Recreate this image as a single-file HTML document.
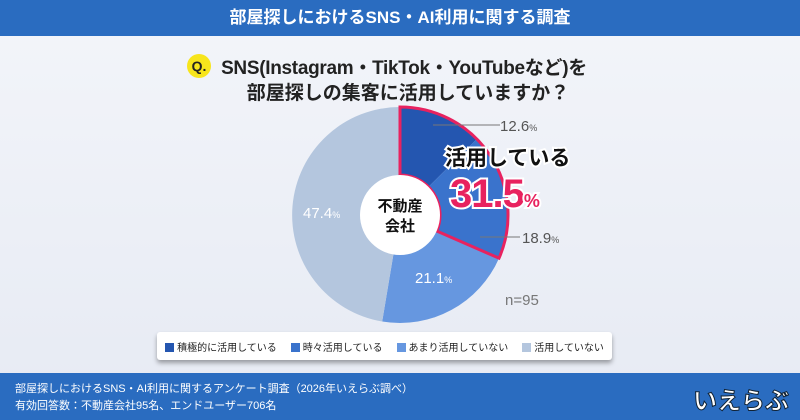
<!DOCTYPE html><html><head><meta charset="utf-8"><style>
body{margin:0;width:800px;height:420px;overflow:hidden;font-family:"Liberation Sans","Noto Sans CJK JP",sans-serif;background:linear-gradient(#f3f5fa,#e6eaf3);position:relative}
.hd{position:absolute;left:0;top:0;width:800px;height:36px;background:#2a6cc0;color:#fff;font-weight:bold;font-size:17px;text-align:center;line-height:36px}
.q{position:absolute;left:0;width:800px;text-align:center;font-weight:bold;font-size:19px;color:#222}
.ft{position:absolute;left:0;top:373px;width:800px;height:47px;background:#2a6cc0;color:#fff;font-size:11px}
.lg{position:absolute;left:157px;top:332px;width:455px;height:28px;background:#fff;border-radius:3px;box-shadow:0 3px 5px rgba(0,0,0,.35);font-size:10px;color:#222;display:flex;align-items:center;justify-content:center;gap:14px}
.lg span i{display:inline-block;width:9px;height:9px;margin-right:3px;vertical-align:-1px}
</style></head><body>
<div class="hd">部屋探しにおけるSNS・AI利用に関する調査</div>
<div style="position:absolute;left:187px;top:54px;width:24px;height:24px;border-radius:50%;background:#f7e51c;font-weight:bold;font-size:14px;text-align:center;line-height:24px;color:#222">Q.</div>
<div class="q" style="top:53px;padding-left:4px;letter-spacing:-0.3px">SNS(Instagram・TikTok・YouTubeなど)を</div>
<div class="q" style="top:78px;padding-left:8px">部屋探しの集客に活用していますか？</div>
<svg width="800" height="420" style="position:absolute;left:0;top:0">
<g transform="translate(400,215)">
<path d="M0,0 L0,-108 A108,108 0 0 1 76.8,-75.9Z" fill="#2456b0"/>
<path d="M0,0 L76.8,-75.9 A108,108 0 0 1 99,43.2Z" fill="#3a73cc"/>
<path d="M0,0 L99,43.2 A108,108 0 0 1 -17.8,106.5Z" fill="#6697e0"/>
<path d="M0,0 L-17.8,106.5 A108,108 0 0 1 0,-108Z" fill="#b4c6de"/>
<path d="M0,-108 A108,108 0 0 1 99,43.2 L36.7,16 A40,40 0 0 0 0,-40Z" fill="none" stroke="#e8225f" stroke-width="3"/>
<circle r="40" fill="#fff"/>
</g>
<line x1="433" y1="125" x2="500" y2="125" stroke="#777"/>
<line x1="480" y1="237" x2="520" y2="237" stroke="#777"/>
<g font-family="Liberation Sans,sans-serif" font-size="15">
<text x="500" y="131" fill="#555">12.6<tspan font-size="9">%</tspan></text>
<text x="522" y="243" fill="#555">18.9<tspan font-size="9">%</tspan></text>
<text x="415" y="283" fill="#fff">21.1<tspan font-size="9">%</tspan></text>
<text x="303" y="218" fill="#fff">47.4<tspan font-size="9">%</tspan></text>
<text x="505" y="305" fill="#777">n=95</text>
</g>
<text x="400" y="211" text-anchor="middle" font-weight="bold" font-size="15" fill="#111" font-family="Noto Sans CJK JP,sans-serif">不動産</text>
<text x="400" y="231" text-anchor="middle" font-weight="bold" font-size="15" fill="#111" font-family="Noto Sans CJK JP,sans-serif">会社</text>
<text x="445" y="165" font-weight="bold" font-size="21" fill="#111" stroke="#fff" stroke-width="4" paint-order="stroke" font-family="Noto Sans CJK JP,sans-serif">活用している</text>
<text x="450" y="207" font-weight="bold" font-size="40" letter-spacing="-1" fill="#e8225f" stroke="#fff" stroke-width="4" paint-order="stroke" font-family="Liberation Sans,sans-serif">31.5<tspan font-size="18">%</tspan></text>
</svg>
<div class="lg"><span><i style="background:#2456b0"></i>積極的に活用している</span><span><i style="background:#3a73cc"></i>時々活用している</span><span><i style="background:#6697e0"></i>あまり活用していない</span><span><i style="background:#b4c6de"></i>活用していない</span></div>
<div class="ft"><div style="position:absolute;left:15px;top:7px">部屋探しにおけるSNS・AI利用に関するアンケート調査（2026年いえらぶ調べ）</div><div style="position:absolute;left:15px;top:24px">有効回答数：不動産会社95名、エンドユーザー706名</div>
<div style="position:absolute;left:693px;top:8px;font-weight:bold;font-size:24px;color:#fff;-webkit-text-stroke:1px #123">いえらぶ</div></div>
</body></html>
